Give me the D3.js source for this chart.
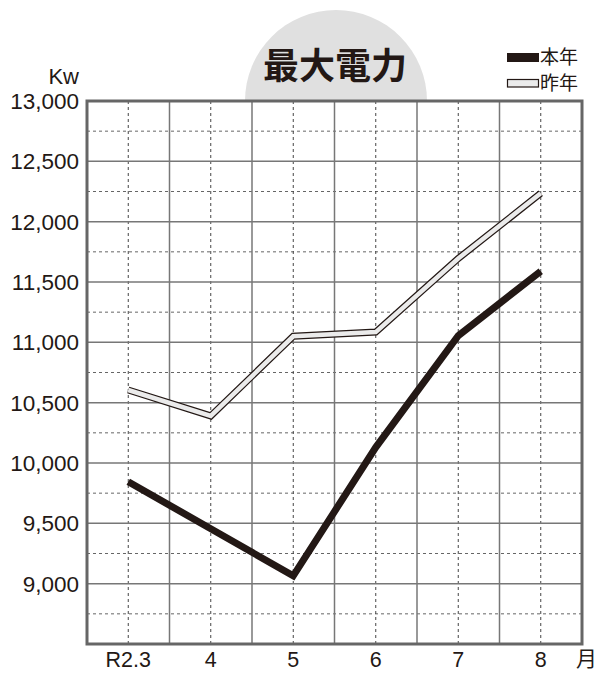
<!DOCTYPE html>
<html><head><meta charset="utf-8">
<script src="https://cdn.jsdelivr.net/npm/d3@7"></script>
<style>body{margin:0;background:#fff}svg{display:block}</style>
</head><body>
<script>
const months = ["R2.3","4","5","6","7","8"];
const thisYear = [9845, 9455, 9065, 10130, 11055, 11590];
const lastYear = [10605, 10390, 11050, 11085, 11695, 12235];
const yTicks = [9000, 9500, 10000, 10500, 11000, 11500, 12000, 12500, 13000];
const yMinor = [8750, 9250, 9750, 10250, 10750, 11250, 11750, 12250, 12750];

const W = 597, H = 673;
const m = {l: 87, r: 15, t: 101, b: 29};
const svg = d3.select("body").append("svg").attr("width", W).attr("height", H);
const font = "'Liberation Sans', Arial, sans-serif";
const jfont = "'Noto Sans CJK JP', sans-serif";
const ink = "#231815";

const x = d3.scaleBand().domain(months).range([m.l, W - m.r]);
const y = d3.scaleLinear().domain([8500, 13000]).range([H - m.b, m.t]);

svg.append("circle").attr("cx", 336).attr("cy", 101).attr("r", 91).attr("fill", "#e0e0e0");
svg.append("text").attr("x", 335).attr("y", 79).attr("text-anchor", "middle")
  .attr("font-family", jfont).attr("font-weight", 700).attr("font-size", 36).attr("fill", ink)
  .text("最大電力");

svg.append("rect").attr("x", m.l).attr("y", m.t).attr("width", W - m.r - m.l).attr("height", H - m.b - m.t).attr("fill", "#fff");

const g = svg.append("g");
g.selectAll(".hm").data(yMinor).join("line")
  .attr("x1", m.l).attr("x2", W - m.r).attr("y1", d => y(d)).attr("y2", d => y(d))
  .attr("stroke", "#666").attr("stroke-width", 1).attr("stroke-dasharray", "3,3");
g.selectAll(".vm").data(months).join("line")
  .attr("x1", d => x(d) + x.bandwidth() / 2).attr("x2", d => x(d) + x.bandwidth() / 2)
  .attr("y1", m.t).attr("y2", H - m.b)
  .attr("stroke", "#444").attr("stroke-width", 1).attr("stroke-dasharray", "3,3");
g.selectAll(".hM").data(yTicks).join("line")
  .attr("x1", m.l).attr("x2", W - m.r).attr("y1", d => y(d)).attr("y2", d => y(d))
  .attr("stroke", "#777").attr("stroke-width", 1.5);
g.selectAll(".vM").data(months.slice(1)).join("line")
  .attr("x1", d => x(d)).attr("x2", d => x(d))
  .attr("y1", m.t).attr("y2", H - m.b)
  .attr("stroke", "#777").attr("stroke-width", 1.5);
svg.append("rect").attr("x", m.l).attr("y", m.t).attr("width", W - m.r - m.l).attr("height", H - m.b - m.t)
  .attr("fill", "none").attr("stroke", "#666").attr("stroke-width", 3);

const line = d3.line().x((d, i) => x(months[i]) + x.bandwidth() / 2).y(d => y(d));
svg.append("path").attr("d", line(lastYear)).attr("fill", "none").attr("stroke", ink)
  .attr("stroke-width", 7).attr("stroke-linejoin", "miter");
svg.append("path").attr("d", line(lastYear)).attr("fill", "none").attr("stroke", "#ebebeb")
  .attr("stroke-width", 4.5).attr("stroke-linejoin", "miter");
svg.append("path").attr("d", line(thisYear)).attr("fill", "none").attr("stroke", ink)
  .attr("stroke-width", 7).attr("stroke-linejoin", "miter");

svg.selectAll(".yl").data(yTicks).join("text")
  .attr("x", 79).attr("y", d => y(d) + 8).attr("text-anchor", "end")
  .attr("font-family", font).attr("font-size", 22.5).attr("fill", ink)
  .text(d => d3.format(",")(d));
svg.append("text").attr("x", 79).attr("y", 84).attr("text-anchor", "end")
  .attr("font-family", font).attr("font-size", 22).attr("fill", ink).text("Kw");

svg.selectAll(".xl").data(months).join("text")
  .attr("x", d => x(d) + x.bandwidth() / 2).attr("y", 667).attr("text-anchor", "middle")
  .attr("font-family", font).attr("font-size", 21.5).attr("fill", ink).text(d => d);
svg.append("text").attr("x", 576).attr("y", 666)
  .attr("font-family", jfont).attr("font-size", 21).attr("fill", ink).text("月");

svg.append("rect").attr("x", 507).attr("y", 53).attr("width", 32).attr("height", 9).attr("fill", ink);
svg.append("text").attr("x", 540).attr("y", 64).attr("font-family", jfont).attr("font-size", 19).attr("fill", ink).text("本年");
svg.append("rect").attr("x", 507.5).attr("y", 79.5).attr("width", 31).attr("height", 7.5).attr("fill", "#ebebeb").attr("stroke", ink).attr("stroke-width", 1.2);
svg.append("text").attr("x", 540).attr("y", 90).attr("font-family", jfont).attr("font-size", 19).attr("fill", ink).text("昨年");
</script>
</body></html>
